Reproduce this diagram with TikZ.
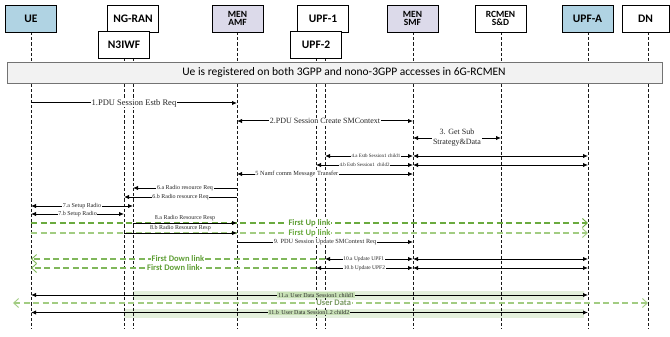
\documentclass[tikz,border=0pt]{standalone}
\usepackage{fontspec}
\setmainfont{Liberation Serif}
\newfontfamily\calfont{Carlito}
\usetikzlibrary{arrows.meta}
\definecolor{ueblue}{HTML}{B0D3E3}
\definecolor{lav}{HTML}{DCDAEA}
\definecolor{gdark}{HTML}{6AAA3E}
\definecolor{glight}{HTML}{A2CC82}
\definecolor{gtext}{HTML}{5E9E34}
\definecolor{bandc}{HTML}{E4F0DC}
\definecolor{bandlab}{HTML}{C8E1B6}
\definecolor{bannerc}{HTML}{F2F2F2}
\begin{document}
\begin{tikzpicture}[x=1pt,y=-1pt,
  ent/.style={draw=black, line width=0.9pt, minimum width=51pt, minimum height=27pt, inner sep=0pt, align=center, font=\calfont\bfseries\fontsize{11.5}{10}\selectfont},
  ent2/.style={ent, font=\calfont\bfseries\fontsize{9.5}{8.5}\selectfont},
  life/.style={dash pattern=on 3.2pt off 2pt, line width=1pt, black!90},
  msg/.style={line width=1pt, -{Latex[length=5pt,width=4.5pt]}},
  dmsg/.style={line width=1pt, {Latex[length=5pt,width=4.5pt]}-{Latex[length=5pt,width=4.5pt]}},
  lab/.style={fill=white, inner sep=0.6pt, text=black!85, font=\fontsize{6}{7}\selectfont},
  gline/.style={dash pattern=on 6pt off 3.5pt, line width=1.2pt, -{Straight Barb[length=5pt,width=9pt,line width=0.9pt]}},
  glab/.style={fill=white, inner sep=0.6pt, text=gtext, font=\calfont\bfseries\fontsize{8.5}{8}\selectfont},
  bandlabel/.style={fill=bandlab, inner sep=0.6pt, text=black!85, font=\fontsize{6}{7}\selectfont},
]
\useasboundingbox (0,0) rectangle (670,337);
% lifeline positions
\coordinate (ue) at (31,0);
\coordinate (n3) at (124,0);
\coordinate (ran) at (133,0);
\coordinate (amf) at (237,0);
\coordinate (u2) at (316,0);
\coordinate (u1) at (325,0);
\coordinate (smf) at (413,0);
\coordinate (sd) at (501,0);
\coordinate (ua) at (588,0);
\coordinate (dn) at (648,0);
\coordinate (uleft) at (13,303);
% bands
\fill[bandc] (ran|-0,291) rectangle (584,299.5);
\fill[bandc] (n3|-0,309) rectangle (584,317.5);
% lifelines
\foreach \c/\t in {ue/32,ran/32,amf/32,u1/32,smf/32,sd/32,ua/32,dn/32,n3/58,u2/58}
  \draw[life] (\c|-0,\t) -- (\c|-0,329);
% banner
\node[draw=black!55, line width=0.7pt, fill=bannerc, minimum width=655pt, minimum height=21pt, inner sep=0pt] (ban) at (334.5,72.5) {};
\node[inner sep=0pt, font=\calfont\fontsize{11.5}{12}\selectfont] (bantext) at (344,72.5) {Ue is registered on both 3GPP and nono-3GPP accesses in 6G-RCMEN};
% entity boxes
\node[ent, fill=ueblue] (bue) at (31,18.5) {UE};
\node[ent, fill=white] (bran) at (133,18.5) {NG-RAN};
\node[ent, fill=white] (bn3) at (124,45) {N3IWF};
\node[ent2, fill=lav] (bamf) at (237.5,18.5) {MEN\\AMF};
\node[ent, fill=white] (bu1) at (323,18.5) {UPF-1};
\node[ent, fill=white] (bu2) at (316,45) {UPF-2};
\node[ent2, fill=lav] (bsmf) at (412.5,18.5) {MEN\\SMF};
\node[ent2, fill=white] (bsd) at (500.5,18.5) {RCMEN\\S\&D};
\node[ent, fill=ueblue] (bua) at (587.5,18.5) {UPF-A};
\node[ent, fill=white, minimum width=47pt] (bdn) at (645.5,18.5) {DN};
% messages
\draw[msg] (ue|-0,103) -- node[lab, font=\fontsize{8.5}{9}\selectfont]{1.PDU Session Estb Req} (amf|-0,103);
\draw[dmsg] (amf|-0,121) -- node[lab, font=\fontsize{8}{9}\selectfont]{2.PDU Session Create SMContext} (smf|-0,121);
\draw[dmsg] (smf|-0,138) -- node[lab, align=center, font=\fontsize{8}{10}\selectfont]{3. Get Sub\\Strategy\&Data} (sd|-0,138);
\draw[dmsg] (u1|-0,156) -- node[lab, pos=0.58, font=\fontsize{5}{6}\selectfont]{4.a Estb Session1 child1} (smf|-0,156);
\draw[dmsg] (smf|-0,156) -- (ua|-0,156);
\draw[dmsg] (u2|-0,165) -- node[lab, font=\fontsize{5}{6}\selectfont]{4.b Estb Session1\, child2} (smf|-0,165);
\draw[dmsg] (smf|-0,165) -- (ua|-0,165);
\draw[dmsg] (amf|-0,174) -- node[lab, pos=0.34, font=\fontsize{6.3}{7}\selectfont]{5 Namf comm Message Transfer} (smf|-0,174);
\draw[msg] (amf|-0,188) -- node[lab]{6.a Radio resource Req} (ran|-0,188);
\draw[msg] (amf|-0,197) -- node[lab]{6.b Radio resource Req} (n3|-0,197);
\draw[dmsg] (ue|-0,206) -- node[lab]{7.a Setup Radio} (ran|-0,206);
\draw[dmsg] (ue|-0,214) -- node[lab]{7.b Setup Radio} (n3|-0,214);
% first up links
\draw[gline, gdark] (ue|-0,223) -- node[glab]{First Up link} (ua|-0,223);
\draw[gline, glight] (ue|-0,233) -- node[glab, text=gdark]{First Up link} (ua|-0,233);
\draw[msg] (ran|-0,223) -- node[above=0.8pt, inner sep=0.6pt, text=black!85, font=\fontsize{6}{7}\selectfont]{8.a Radio Resource Resp} (amf|-0,223);
\draw[msg] (n3|-0,233) -- node[above=0.8pt, inner sep=0.6pt, text=black!85, font=\fontsize{6}{7}\selectfont]{8.b Radio Resource Resp} (amf|-0,233);
\draw[msg] (amf|-0,242) -- node[lab, font=\fontsize{6.3}{7}\selectfont]{9. PDU Session Update SMContext Req} (smf|-0,242);
% first down links
\draw[gline, gdark!85] (u1|-0,259) -- node[glab]{First Down link} (ue|-0,259);
\draw[gline, gdark!85] (u2|-0,268) -- node[glab]{First Down link} (ue|-0,268);
\draw[dmsg] (u1|-0,259) -- node[lab, pos=0.44, font=\fontsize{5.5}{6}\selectfont]{10.a Update UPF1} (smf|-0,259);
\draw[dmsg] (smf|-0,259) -- (ua|-0,259);
\draw[dmsg] (u2|-0,268) -- node[lab, font=\fontsize{5.5}{6}\selectfont]{10.b Update UPF2} (smf|-0,268);
\draw[dmsg] (smf|-0,268) -- (ua|-0,268);
% user data
\draw[dmsg] (ue|-0,295) -- (ua|-0,295);
\node[bandlabel] (l11a) at (316,295) {11.a\, User Data Session1 child1};
\draw[gline, glight, {Straight Barb[length=5pt,width=9pt,line width=0.9pt]}-{Straight Barb[length=5pt,width=9pt,line width=0.9pt]}] (uleft) -- node[glab, text=glight!75!black, pos=0.505]{User Data} (dn|-0,303);
\draw[dmsg] (ue|-0,312.5) -- (ua|-0,312.5);
\node[bandlabel] (l11b) at (309,312.5) {11.b\, User Data Session1.2 child2};
\end{tikzpicture}
\end{document}
